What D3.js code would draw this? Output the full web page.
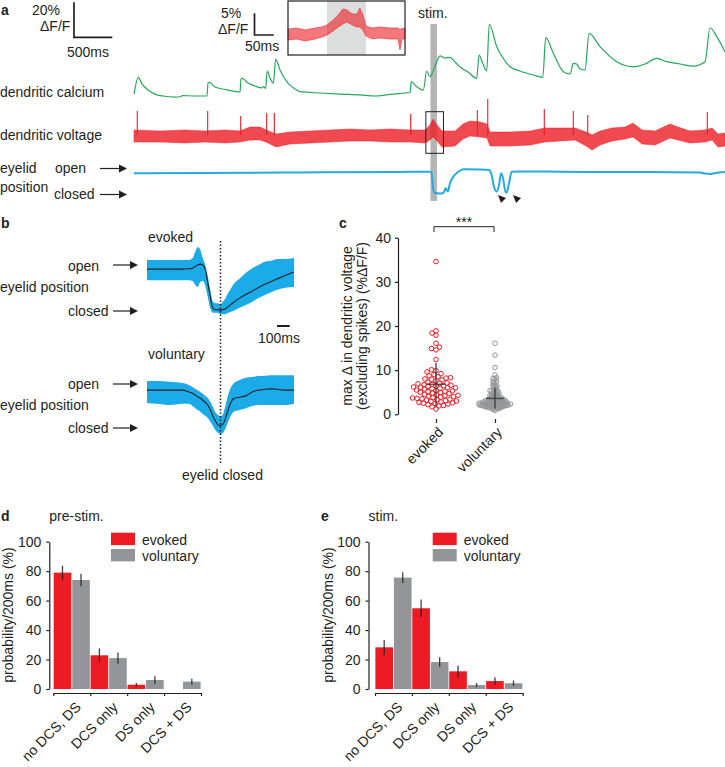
<!DOCTYPE html>
<html>
<head>
<meta charset="utf-8">
<script src="https://cdn.jsdelivr.net/npm/d3@7"></script>
<style>
  body { margin: 0; background: #fff; }
  text { font-family: "Liberation Sans", Arial, Helvetica, sans-serif; fill: #231f20; }
</style>
</head>
<body>
<svg id="fig"></svg>
<script>
// ---------- data: panel a (time in s) ----------
// dendritic calcium trace, %dF/F
var caT = [0,0.056,0.104,0.183,0.274,0.379,0.535,0.614,0.627,0.796,0.953,0.966,0.986,1.057,1.188,1.384,1.397,1.410,1.488,1.580,1.671,1.691,1.717,1.740,1.775,1.819,1.850,1.906,2.010,2.102,2.167,2.428,2.689,2.950,3.146,3.342,3.538,3.603,3.620,3.681,3.777,3.821,3.864,3.907,3.960,3.995,4.060,4.125,4.191,4.278,4.360,4.474,4.504,4.552,4.604,4.638,4.735,4.817,4.909,5.039,5.213,5.336,5.375,5.474,5.605,5.692,5.735,5.779,5.822,5.888,5.940,6.084,6.302,6.518,6.671,6.824,6.954,7.128,7.301,7.454,7.520,7.607,7.715];
var caV = [1.1,10.7,6.9,3.4,1.1,0,-0.6,-0.3,0.3,0,0,7.4,7.8,5.1,3.7,2.3,9.7,10.1,7.4,5.7,4.6,5.4,4.3,14.3,10.3,7.3,21.1,14.9,7.4,4.0,2.5,1.7,1.1,0.6,0,0.9,1.7,2.0,8.2,5.7,3.4,14.3,11.0,14.5,20.6,22.9,21.7,22.1,19.4,15.8,13.7,10.1,23.4,18.7,14.3,41.0,28.2,21.7,16.7,14.3,12.0,10.7,33.3,24.4,13.9,12.6,18.7,18.3,15.4,14.9,35.8,28.2,19.6,16.7,18.3,21.5,19.6,18.3,17.1,19.6,39.0,33.9,25.3];

// dendritic voltage: noise envelope (upper / lower) and spikes, %dF/F
var vmT = [0,0.339,0.666,0.927,1.188,1.384,1.514,1.645,1.723,1.854,2.037,2.298,2.559,2.820,3.081,3.342,3.603,3.799,3.864,3.903,3.956,4.021,4.191,4.295,4.386,4.517,4.608,4.648,4.909,5.170,5.366,5.561,5.757,5.901,5.979,6.084,6.240,6.410,6.514,6.632,6.802,6.997,7.102,7.258,7.454,7.546,7.624,7.715];
var vmHi = [1.25,1.0,1.25,1.0,1.25,1.0,2.0,2.0,1.25,0.25,0.75,1.0,1.25,1.5,1.25,1.5,1.25,1.25,2.5,4.0,2.5,1.0,1.0,2.75,3.5,3.25,2.75,0.75,0.75,1.0,1.75,1.75,1.75,0.75,0,1.0,1.75,2.0,3.0,1.25,1.0,2.75,2.0,1.0,1.25,1.75,0.25,0.5];
var vmLo = [-1.75,-1.75,-2.0,-1.75,-2.0,-1.75,-1.25,-1.25,-1.75,-3.0,-2.25,-2.0,-1.75,-1.5,-1.5,-1.75,-1.75,-2.0,-1.25,-0.5,-1.5,-3.0,-2.75,-1.0,-0.25,-0.5,-0.75,-2.75,-2.75,-2.5,-1.75,-1.5,-1.25,-2.75,-3.75,-2.5,-1.5,-1.0,-0.5,-2.25,-2.5,-0.75,-1.25,-2.0,-1.75,-1.25,-3.0,-2.75];
var spikeT = [0.043,0.962,1.393,1.732,1.832,3.612,4.482,4.618,5.356,5.735,5.923,7.484];
var spikeV = [6.0,6.0,4.75,5.5,5.5,5.25,6.25,9.0,6.5,6.0,5.0,5.75];

// eyelid position (1 = open, 0 = closed)
var lidT = [0,0.862,2.167,3.473,3.864,3.884,3.907,3.930,3.995,4.038,4.069,4.096,4.125,4.169,4.234,4.299,4.517,4.634,4.669,4.700,4.735,4.765,4.791,4.817,4.843,4.865,4.896,4.931,5.039,5.561,6.084,6.736,7.389,7.454,7.520,7.585,7.715];
var lidV = [0.86,0.875,0.90,0.92,0.93,0.90,0.17,0.04,0.02,0.04,0.24,0.10,0.45,0.72,0.93,1.03,1.02,1.0,0.79,0.29,0.10,0.375,0.86,0.67,0.17,0.05,0.46,0.93,0.94,0.93,0.92,0.92,0.90,0.85,0.83,0.875,0.92];

var stimWin = [3.87, 3.955];
var zoomWin = [3.81, 4.04];
var blinkT = [4.752, 4.948];

// inset (time in ms)
var insetT = [0,23,44,70,88,101,117,130,142,153,166,179,186,194,202,218,238,264,285,290,295,303];
var insetHi = [1.15,1.38,0.92,1.38,1.61,2.07,3.23,4.38,5.76,5.53,4.61,4.61,5.99,4.38,1.84,1.38,1.61,1.38,1.38,0.92,1.38,1.15];
var insetLo = [-1.38,-1.15,-1.61,-1.15,-0.69,-0.23,0.69,1.61,2.30,2.76,2.07,1.61,1.61,0.92,-0.46,-1.15,-0.92,-1.15,-1.15,-3.69,-1.15,-1.15];
var insetStim = [101, 202];

// ---------- data: panel b (ms from eyelid closed) ----------
var bT = [-580,-500,-400,-300,-250,-220,-200,-180,-160,-140,-120,-100,-80,-60,-40,-20,0,20,40,60,80,100,150,200,250,300,350,400,450,500,580];
var evMean = [0.91,0.91,0.91,0.91,0.92,0.93,0.97,1.0,1.02,1.0,0.90,0.61,0.30,0.06,0.03,0.03,0.02,0.03,0.05,0.09,0.14,0.18,0.28,0.36,0.43,0.51,0.58,0.64,0.70,0.76,0.85];
var evHi = [1.11,1.11,1.11,1.11,1.11,1.15,1.28,1.39,1.33,1.15,1.0,0.75,0.45,0.2,0.17,0.17,0.15,0.20,0.28,0.39,0.48,0.57,0.70,0.83,0.93,1.0,1.07,1.09,1.13,1.13,1.15];
var evLo = [0.67,0.67,0.67,0.67,0.67,0.65,0.57,0.52,0.63,0.65,0.55,0.30,0.05,-0.04,-0.04,-0.04,-0.07,-0.07,-0.07,-0.04,-0.02,0,0.07,0.13,0.20,0.28,0.35,0.41,0.46,0.50,0.52];
var voMean = [0.86,0.86,0.86,0.86,0.82,0.79,0.75,0.71,0.68,0.63,0.58,0.52,0.41,0.27,0.16,0.07,0.05,0.09,0.23,0.41,0.57,0.66,0.70,0.73,0.82,0.86,0.88,0.89,0.88,0.86,0.86];
var voHi = [1.07,1.07,1.05,1.02,0.98,0.93,0.89,0.86,0.82,0.78,0.73,0.68,0.59,0.48,0.36,0.30,0.27,0.32,0.52,0.75,0.91,1.0,1.09,1.14,1.16,1.18,1.19,1.20,1.20,1.20,1.20];
var voLo = [0.57,0.55,0.52,0.55,0.55,0.50,0.45,0.41,0.37,0.32,0.28,0.23,0.14,0.05,-0.05,-0.11,-0.14,-0.11,0,0.14,0.27,0.36,0.41,0.45,0.50,0.52,0.52,0.52,0.52,0.52,0.55];

// ---------- data: panel c ----------
var groups = ["evoked", "voluntary"];
var evokedVals = [34.6,18.9,18.4,17.9,16.1,15.2,14.9,14.6,12.4,10.1,9.9,9.6,9.2,9.0,8.7,8.5,8.3,8.2,8.0,7.9,7.8,7.6,7.3,7.1,7.0,6.9,6.8,6.7,6.6,6.5,6.4,6.3,6.2,6.1,6.0,6.0,5.9,5.8,5.7,5.5,5.4,5.3,5.2,5.1,5.0,4.9,4.8,4.7,4.5,4.4,4.3,4.2,4.1,4.0,3.9,3.8,3.7,3.6,3.5,3.4,3.3,3.2,3.1,3.0,2.9,2.8,2.7,2.6,2.5,2.4,2.3,2.2,2.0,1.9,1.7,1.2];
var voluntaryVals = [16.1,13.4,10.6,8.9,8.3,8.1,8.0,7.5,7.3,7.2,6.9,6.6,6.5,6.4,6.2,6.0,5.8,5.6,5.4,5.3,5.2,5.1,5.0,4.9,4.8,4.7,4.6,4.5,4.4,4.3,4.2,4.1,4.0,4.0,3.9,3.8,3.8,3.7,3.6,3.6,3.5,3.5,3.4,3.4,3.3,3.3,3.2,3.2,3.1,3.1,3.0,3.0,3.0,2.9,2.9,2.9,2.8,2.8,2.8,2.7,2.7,2.7,2.6,2.6,2.6,2.5,2.5,2.5,2.5,2.4,2.4,2.4,2.4,2.3,2.3,2.3,2.3,2.2,2.2,2.2,2.2,2.1,2.1,2.1,2.1,2.0,2.0,2.0,2.0,1.9,1.9,1.9,1.8,1.8,1.8,1.7,1.7,1.7,1.6,1.6,1.5,1.5,1.4,1.4,1.3,1.2,1.1,0.9];
var evokedStat = [6.8, 1.8, 11.7];     // median, low, high
var voluntaryStat = [3.6, 1.3, 6.0];

// ---------- data: panels d, e ----------
var barCats = ["no DCS, DS", "DCS only", "DS only", "DCS + DS"];
var preEvoked = [79, 22.9, 2.9, 0];
var preEvokedErr = [4.7, 4.7, 1.2, 0];
var preVoluntary = [74, 21, 6.1, 5];
var preVoluntaryErr = [4.3, 3.8, 2.5, 2];
var stimEvoked = [28.3, 54.8, 12, 5.4];
var stimEvokedErr = [5, 6, 4, 2.5];
var stimVoluntary = [75.6, 18.3, 2.7, 3.9];
var stimVoluntaryErr = [3.7, 3.2, 1.4, 1.9];

// ---------- drawing ----------
var ink = "#231f20";
var red = "#ed1c24";
var gray = "#939598";
var green = "#25a95b";
var blue = "#27aae1";
var font = '"Liberation Sans", Arial, Helvetica, sans-serif';

var svg = d3.select("#fig").attr("width", 725).attr("height", 767);
svg.append("rect").attr("width", 725).attr("height", 767).attr("fill", "#fff");

function label(x, y, s, opts) {
  opts = opts || {};
  var t = svg.append("text").attr("x", x).attr("y", y).attr("font-size", opts.size || 14).text(s);
  if (opts.bold) t.attr("font-weight", "bold");
  if (opts.anchor) t.attr("text-anchor", opts.anchor);
  return t;
}

function arrow(x1, x2, y) {
  svg.append("line").attr("x1", x1).attr("x2", x2 - 6).attr("y1", y).attr("y2", y)
    .attr("stroke", ink).attr("stroke-width", 1.2);
  svg.append("path").attr("d", `M${x2},${y}L${x2 - 8},${y - 4}L${x2 - 8},${y + 4}Z`).attr("fill", ink);
}

function styleAxis(g) {
  g.attr("font-size", 14).attr("font-family", font).attr("color", ink);
  g.selectAll("path, line").attr("stroke", ink).attr("stroke-width", 1.2);
}

// ----- panel a -----
var xT = d3.scaleLinear().domain([0, 7.715]).range([134, 725]);
var yCa = d3.scaleLinear().domain([0, 20]).range([96, 61]);
var yVm = d3.scaleLinear().domain([0, 5]).range([135, 115]);
var yLid = d3.scaleLinear().domain([0, 1]).range([194, 170]);

label(1, 15, "a", {bold: true});

svg.append("rect")
  .attr("x", xT(stimWin[0])).attr("width", xT(stimWin[1]) - xT(stimWin[0]))
  .attr("y", 24).attr("height", 177).attr("fill", "#b5b5b5");
label(418, 18, "stim.");

// calcium
svg.append("path")
  .attr("d", d3.line().x((d, i) => xT(caT[i])).y((d, i) => yCa(caV[i])).curve(d3.curveMonotoneX)(caT))
  .attr("fill", "none").attr("stroke", green).attr("stroke-width", 1.2);

// voltage
svg.append("path")
  .attr("d", d3.area().x((d, i) => xT(vmT[i])).y0((d, i) => yVm(vmLo[i])).y1((d, i) => yVm(vmHi[i]))(vmT))
  .attr("fill", red).attr("fill-opacity", 0.8).attr("stroke", red).attr("stroke-width", 0.8).attr("stroke-opacity", 0.6);
svg.selectAll(".spike").data(spikeT).enter().append("line")
  .attr("x1", d => xT(d)).attr("x2", d => xT(d))
  .attr("y1", yVm(0)).attr("y2", (d, i) => yVm(spikeV[i]))
  .attr("stroke", red).attr("stroke-width", 1.1);

svg.append("rect")
  .attr("x", xT(zoomWin[0])).attr("width", xT(zoomWin[1]) - xT(zoomWin[0]))
  .attr("y", 111.7).attr("height", 41.6)
  .attr("fill", "none").attr("stroke", ink).attr("stroke-width", 1);

// eyelid
svg.append("path")
  .attr("d", d3.line().x((d, i) => xT(lidT[i])).y((d, i) => yLid(lidV[i])).curve(d3.curveMonotoneX)(lidT))
  .attr("fill", "none").attr("stroke", blue).attr("stroke-width", 2);
svg.selectAll(".blink").data(blinkT).enter().append("path")
  .attr("d", d => { var x = xT(d), y = 195; return `M${x},${y}L${x + 8},${y + 3}L${x + 3},${y + 8}Z`; })
  .attr("fill", ink);

label(0, 97, "dendritic calcium");
label(0, 140, "dendritic voltage");
label(0, 173, "eyelid");
label(0, 192, "position");
label(55, 173, "open");
label(54, 199, "closed");
arrow(100, 127, 168.5);
arrow(100, 127, 194.5);

// scale bar 20% / 500 ms
var sbX = 74, sbY = 37.3;
svg.append("path")
  .attr("d", `M${sbX},${sbY - (yCa(0) - yCa(20))}V${sbY}H${sbX + xT(0.5) - xT(0)}`)
  .attr("fill", "none").attr("stroke", ink).attr("stroke-width", 1.7);
label(32, 15, "20%");
label(40, 31, "ΔF/F");
label(67, 57, "500ms");

// inset
var xIn = d3.scaleLinear().domain([0, 303]).range([288, 405]);
var yIn = d3.scaleLinear().domain([0, 5]).range([34, 12.3]);
svg.append("rect").attr("x", xIn(insetStim[0])).attr("width", xIn(insetStim[1]) - xIn(insetStim[0]))
  .attr("y", 1).attr("height", 54).attr("fill", "#dcdddd");
svg.append("path")
  .attr("d", d3.area().x((d, i) => xIn(insetT[i])).y0((d, i) => yIn(insetLo[i])).y1((d, i) => yIn(insetHi[i]))(insetT))
  .attr("fill", red).attr("fill-opacity", 0.6).attr("stroke", red).attr("stroke-width", 0.8).attr("stroke-opacity", 0.7);
svg.append("rect").attr("x", 288).attr("y", 1).attr("width", 117).attr("height", 54)
  .attr("fill", "none").attr("stroke", ink).attr("stroke-width", 1.2);
var ibX = 254.5, ibY = 35;
svg.append("path")
  .attr("d", `M${ibX},${ibY - (yIn(0) - yIn(5))}V${ibY}H${ibX + xIn(50) - xIn(0)}`)
  .attr("fill", "none").attr("stroke", ink).attr("stroke-width", 1.7);
label(221, 18, "5%");
label(218, 34, "ΔF/F");
label(245, 51, "50ms");

// ----- panel b -----
var xB = d3.scaleLinear().domain([-580, 580]).range([147, 294]);
var yEv = d3.scaleLinear().domain([0, 1]).range([311, 265]);
var yVo = d3.scaleLinear().domain([0, 1]).range([428, 384]);

label(1, 228, "b", {bold: true});

function bandPlot(y, hi, lo, mean) {
  svg.append("path")
    .attr("d", d3.area().x((d, i) => xB(bT[i])).y0((d, i) => y(lo[i])).y1((d, i) => y(hi[i])).curve(d3.curveMonotoneX)(bT))
    .attr("fill", "#1aabe8");
  svg.append("path")
    .attr("d", d3.line().x((d, i) => xB(bT[i])).y((d, i) => y(mean[i])).curve(d3.curveMonotoneX)(bT))
    .attr("fill", "none").attr("stroke", ink).attr("stroke-width", 1.1);
}
bandPlot(yEv, evHi, evLo, evMean);
bandPlot(yVo, voHi, voLo, voMean);

svg.append("line").attr("x1", xB(0)).attr("x2", xB(0)).attr("y1", 241).attr("y2", 464)
  .attr("stroke", ink).attr("stroke-width", 1.5).attr("stroke-dasharray", "1.5,2");

label(148, 242, "evoked");
label(148, 359, "voluntary");
label(68, 271, "open");
label(0, 292, "eyelid position");
label(68, 316, "closed");
arrow(113, 138, yEv(1));
arrow(113, 138, yEv(0));
label(68, 389, "open");
label(0, 410, "eyelid position");
label(68, 433, "closed");
arrow(113, 138, yVo(1));
arrow(113, 138, yVo(0));
label(182, 480, "eyelid closed");

svg.append("line").attr("x1", 277).attr("x2", 277 + xB(100) - xB(0)).attr("y1", 326).attr("y2", 326)
  .attr("stroke", ink).attr("stroke-width", 2);
label(258, 343, "100ms");

// ----- panel c -----
var yC = d3.scaleLinear().domain([0, 40]).range([414.3, 237.7]);
var xC = d3.scalePoint().domain(groups).range([436, 495]);

label(339, 228, "c", {bold: true});

var axC = svg.append("g").attr("transform", "translate(398,0)")
  .call(d3.axisLeft(yC).tickValues([0, 10, 20, 30, 40]).tickSize(3).tickSizeOuter(0).tickPadding(4));
styleAxis(axC);
var axCx = svg.append("g").attr("transform", "translate(0,419)")
  .call(d3.axisBottom(xC).tickSize(4).tickFormat(""));
styleAxis(axCx);
axCx.select(".domain").remove();

groups.forEach(g => {
  svg.append("text").attr("transform", `translate(${xC(g) + 8},433) rotate(-45)`)
    .attr("text-anchor", "end").attr("font-size", 14).text(g);
});

svg.append("text").attr("transform", "translate(352,326) rotate(-90)")
  .attr("text-anchor", "middle").attr("font-size", 14).text("max Δ in dendritic voltage");
svg.append("text").attr("transform", "translate(367,326) rotate(-90)")
  .attr("text-anchor", "middle").attr("font-size", 14).text("(excluding spikes) (%ΔF/F)");

// simple deterministic beeswarm: each point takes the nearest free offset
function swarm(vals, d) {
  var pts = vals.map(v => ({v: v, y: yC(v), x: 0})).sort((a, b) => a.v - b.v);
  var placed = [];
  pts.forEach(p => {
    for (var k = 0; k < 800; k++) {
      var cand = (k % 2 ? -1 : 1) * Math.ceil(k / 2) * 0.5;
      if (placed.every(q => (q.x - cand) * (q.x - cand) + (q.y - p.y) * (q.y - p.y) >= d * d)) { p.x = cand; break; }
    }
    placed.push(p);
  });
  return placed;
}

[[evokedVals, evokedStat, red, 4.3], [voluntaryVals, voluntaryStat, gray, 1.8]].forEach((s, gi) => {
  var cx = xC(groups[gi]);
  svg.append("g").selectAll("circle").data(swarm(s[0], s[3])).enter().append("circle")
    .attr("cx", d => cx + d.x).attr("cy", d => d.y).attr("r", 2.3)
    .attr("fill", "none").attr("stroke", s[2]).attr("stroke-width", 1);
  svg.append("line").attr("x1", cx).attr("x2", cx).attr("y1", yC(s[1][1])).attr("y2", yC(s[1][2]))
    .attr("stroke", "#3a3a3a").attr("stroke-width", 1.5).attr("opacity", 0.85);
  svg.append("line").attr("x1", cx - 9).attr("x2", cx + 9).attr("y1", yC(s[1][0])).attr("y2", yC(s[1][0]))
    .attr("stroke", "#3a3a3a").attr("stroke-width", 1.5).attr("opacity", 0.85);
});

svg.append("path").attr("d", `M${xC("evoked") - 2},232V226.7H${xC("voluntary") - 1}V232`)
  .attr("fill", "none").attr("stroke", ink).attr("stroke-width", 1);
label(464, 227, "***", {anchor: "middle"});

// ----- panels d, e -----
var yP = d3.scaleLinear().domain([0, 100]).range([689, 541.7]);

function barPanel(o) {
  var x = d3.scaleBand().domain(barCats).range(o.range);
  var sub = d3.scaleBand().domain(groups).range([0, x.bandwidth()]).paddingInner(0.05).paddingOuter(0.02);
  label(o.letterX, 521, o.letter, {bold: true});
  label(o.axisX, 521, o.title);

  var ay = svg.append("g").attr("transform", `translate(${o.axisX},0)`)
    .call(d3.axisLeft(yP).tickValues([0, 20, 40, 60, 80, 100]).tickSize(3).tickSizeOuter(0).tickPadding(5));
  styleAxis(ay);
  var xb = d3.scaleLinear().domain([0, barCats.length]).range(o.range);
  var ax = svg.append("g").attr("transform", "translate(0,693)")
    .call(d3.axisBottom(xb).tickValues(d3.range(0, barCats.length + 1)).tickSize(3).tickSizeOuter(0).tickFormat(""));
  styleAxis(ax);

  svg.append("text").attr("transform", `translate(${o.ylabX},615) rotate(-90)`)
    .attr("text-anchor", "middle").attr("font-size", 14).text("probability/200ms (%)");

  var series = [[groups[0], o.ev, o.evErr, red], [groups[1], o.vo, o.voErr, gray]];
  series.forEach(s => {
    var g = svg.append("g");
    g.selectAll("rect").data(barCats).enter().append("rect")
      .attr("x", c => x(c) + sub(s[0])).attr("width", sub.bandwidth())
      .attr("y", (c, i) => yP(s[1][i])).attr("height", (c, i) => yP(0) - yP(s[1][i]))
      .attr("fill", s[3]);
    g.selectAll("line").data(barCats.filter((c, i) => s[2][i] > 0)).enter().append("line")
      .attr("x1", c => x(c) + sub(s[0]) + sub.bandwidth() / 2)
      .attr("x2", c => x(c) + sub(s[0]) + sub.bandwidth() / 2)
      .attr("y1", c => { var i = barCats.indexOf(c); return yP(s[1][i] + s[2][i]); })
      .attr("y2", c => { var i = barCats.indexOf(c); return yP(Math.max(0, s[1][i] - s[2][i])); })
      .attr("stroke", ink).attr("stroke-width", 1.3).attr("opacity", 0.85);
  });

  barCats.forEach(c => {
    svg.append("text").attr("transform", `translate(${x(c) + x.bandwidth() / 2 + 10},708) rotate(-45)`)
      .attr("text-anchor", "end").attr("font-size", 14).text(c);
  });

  [[groups[0], red, 532.7, 545], [groups[1], gray, 549, 561]].forEach(l => {
    svg.append("rect").attr("x", o.legX).attr("y", l[2]).attr("width", 24).attr("height", 12.4).attr("fill", l[1]);
    label(o.legX + 31, l[3], l[0]);
  });
}

barPanel({range: [53.3, 201], axisX: 49.3, ylabX: 13, letter: "d", letterX: 1, title: "pre-stim.",
  legX: 111, ev: preEvoked, evErr: preEvokedErr, vo: preVoluntary, voErr: preVoluntaryErr});
barPanel({range: [375, 522.7], axisX: 368.5, ylabX: 333, letter: "e", letterX: 321, title: "stim.",
  legX: 432.7, ev: stimEvoked, evErr: stimEvokedErr, vo: stimVoluntary, voErr: stimVoluntaryErr});
</script>
</body>
</html>
